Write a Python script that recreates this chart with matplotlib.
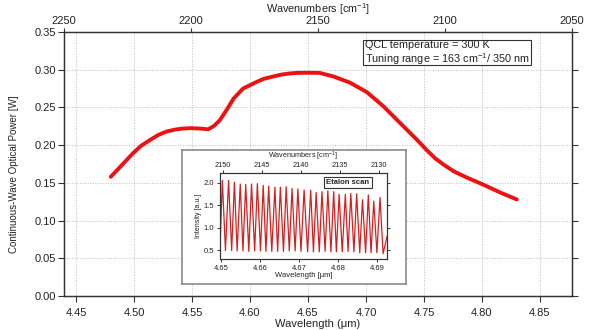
import matplotlib
matplotlib.use("Agg")
import matplotlib.pyplot as plt
from matplotlib.patches import Rectangle

plt.rcParams['font.family'] = ['Liberation Sans', 'DejaVu Sans']
plt.rcParams['mathtext.fontset'] = 'custom'
plt.rcParams['mathtext.rm'] = 'Liberation Sans'
plt.rcParams['mathtext.it'] = 'Liberation Sans:italic'

# main curve: CW optical power vs wavelength
wavelength = [4.480, 4.488, 4.499, 4.506, 4.514, 4.521, 4.528, 4.535, 4.542,
              4.549, 4.557, 4.564, 4.569, 4.574, 4.580, 4.586, 4.594, 4.606,
              4.612, 4.620, 4.627, 4.634, 4.641, 4.649, 4.660, 4.672, 4.686,
              4.701, 4.715, 4.729, 4.744, 4.752, 4.760, 4.768, 4.776, 4.787,
              4.801, 4.816, 4.830]
power = [0.158, 0.171, 0.189, 0.199, 0.207, 0.2135, 0.218, 0.2205, 0.222,
         0.2225, 0.222, 0.221, 0.2255, 0.233, 0.247, 0.262, 0.275, 0.284,
         0.288, 0.291, 0.2935, 0.295, 0.2958, 0.296, 0.2958, 0.291, 0.283,
         0.270, 0.2515, 0.230, 0.207, 0.194, 0.182, 0.173, 0.165, 0.157,
         0.1477, 0.137, 0.128]

# inset: etalon fringes, peak and valley positions/heights
peak_wl = [4.6503, 4.6519, 4.6534, 4.6549, 4.6563, 4.6578, 4.6593, 4.6608,
           4.6622, 4.6638, 4.6652, 4.6667, 4.6682, 4.6697, 4.6713, 4.6730,
           4.6744, 4.6759, 4.6774, 4.6789, 4.6803, 4.6819, 4.6833, 4.6848,
           4.6863, 4.6878, 4.6892, 4.6908]
peak_int = [2.05, 2.05, 2.01, 1.97, 1.96, 1.97, 1.98, 1.94, 1.92, 1.90,
            1.90, 1.91, 1.87, 1.86, 1.84, 1.83, 1.78, 1.80, 1.82, 1.80,
            1.74, 1.74, 1.76, 1.75, 1.62, 1.73, 1.59, 1.67]
valley_wl = [4.6511, 4.6527, 4.6541, 4.6556, 4.6571, 4.6586, 4.6601, 4.6615,
             4.6630, 4.6645, 4.6660, 4.6675, 4.6690, 4.6705, 4.6722, 4.6737,
             4.6752, 4.6767, 4.6782, 4.6796, 4.6811, 4.6826, 4.6841, 4.6856,
             4.6871, 4.6885, 4.6900, 4.6916]
valley_int = [0.49, 0.49, 0.48, 0.48, 0.47, 0.48, 0.48, 0.47, 0.47, 0.47,
              0.47, 0.48, 0.48, 0.47, 0.46, 0.46, 0.46, 0.47, 0.46, 0.46,
              0.46, 0.47, 0.46, 0.44, 0.44, 0.44, 0.44, 0.42]
fringe_start = (4.6497, 0.55)
fringe_end = (4.6926, 0.80)

main_xticks = [4.45, 4.50, 4.55, 4.60, 4.65, 4.70, 4.75, 4.80, 4.85]
main_yticks = [0.00, 0.05, 0.10, 0.15, 0.20, 0.25, 0.30, 0.35]
top_ticks = [2250, 2200, 2150, 2100, 2050]
inset_xticks = [4.65, 4.66, 4.67, 4.68, 4.69]
inset_yticks = [0.5, 1.0, 1.5, 2.0]
inset_top_ticks = [2150, 2145, 2140, 2135, 2130]

W, H = 600, 330
fig = plt.figure(figsize=(6, 3.3), dpi=100)

def box(l, t, r, b):
    return [l / W, (H - b) / H, (r - l) / W, (b - t) / H]

spine_col = '#333333'
txt_col = '#222222'

ax = fig.add_axes(box(64, 32, 572, 296))
ax.plot(wavelength, power, color='#ee1111', lw=2.8, solid_capstyle='round')
ax.set_xlim(4.4397, 4.8776)
ax.set_ylim(0, 0.35)
ax.set_xticks(main_xticks)
ax.set_yticks(main_yticks)
ax.set_xticklabels([f"{v:.2f}" for v in main_xticks])
ax.set_yticklabels([f"{v:.2f}" for v in main_yticks])
ax.grid(True, ls=':', color='#bdbdbd', lw=0.7)
ax.tick_params(direction='out', length=4.5, width=0.8, labelsize=8,
               colors=spine_col, labelcolor=txt_col, right=True, pad=2)
ax.tick_params(axis='y', pad=1.5)
ax.tick_params(axis='x', pad=4)
ax.set_xlabel("Wavelength (\u03bcm)", fontsize=8, color=txt_col, labelpad=1)
ax.set_ylabel("Continuous-Wave Optical Power [W]", fontsize=7, color=txt_col)
ax.yaxis.set_label_coords(-0.088, 0.46)
for s in ax.spines.values():
    s.set_color(spine_col)
    s.set_linewidth(0.9)

# annotation box, top right
ax.add_patch(Rectangle((0.5886, 0.875), 0.3307, 0.0947, transform=ax.transAxes,
                       fc='white', ec=spine_col, lw=0.8, zorder=5))
ax.text(0.5925, 0.951, "QCL temperature = 300 K", transform=ax.transAxes,
        fontsize=7.8, color=txt_col, ha='left', va='center', zorder=6)
ax.text(0.5925, 0.897, "Tuning range = 163 cm$^{-1}$/ 350 nm", transform=ax.transAxes,
        fontsize=7.8, color=txt_col, ha='left', va='center', zorder=6)

top = ax.twiny()
top.set_xlim(2250, 2050)
top.set_xticks(top_ticks)
top.tick_params(direction='out', length=3, width=0.8, labelsize=8,
                colors=spine_col, labelcolor=txt_col, pad=1.5)
top.set_xlabel("Wavenumbers [cm$^{-1}$]", fontsize=7.8, color=txt_col, labelpad=2)
for s in top.spines.values():
    s.set_color(spine_col)
    s.set_linewidth(0.9)

# inset frame
frame = fig.add_axes(box(182, 150, 406, 284))
frame.set_xticks([])
frame.set_yticks([])
frame.set_facecolor('white')
for s in frame.spines.values():
    s.set_color('#8a8a8a')
    s.set_linewidth(1.2)

fx = [fringe_start[0]]
fy = [fringe_start[1]]
for pw, pi, vw, vi in zip(peak_wl, peak_int, valley_wl, valley_int):
    fx += [pw, vw]
    fy += [pi, vi]
fx.append(fringe_end[0])
fy.append(fringe_end[1])

ins = fig.add_axes(box(220, 173, 387, 259))
ins.plot(fx, fy, color='#d42020', lw=0.9)
ins.set_xlim(4.6497, 4.6926)
ins.set_ylim(0.30, 2.216)
ins.set_xticks(inset_xticks)
ins.set_yticks(inset_yticks)
ins.set_xticklabels([f"{v:.2f}" for v in inset_xticks])
ins.set_yticklabels([f"{v:.1f}" for v in inset_yticks])
ins.tick_params(direction='out', length=2.5, width=0.7, labelsize=5.5,
                colors=spine_col, labelcolor=txt_col, right=True, pad=1.5)
ins.set_xlabel("Wavelength [\u03bcm]", fontsize=5.5, color=txt_col, labelpad=0)
ins.set_ylabel("Intensity [a.u.]", fontsize=5, color=txt_col, labelpad=1.5)
ins.text(0.766, 0.89, "Etalon scan", transform=ins.transAxes, fontsize=5.5,
         fontweight='bold', color=txt_col, ha='center', va='center', zorder=6,
         bbox=dict(boxstyle='square,pad=0.3', fc='white', ec=spine_col, lw=0.8))
for s in ins.spines.values():
    s.set_color(spine_col)
    s.set_linewidth(0.8)

ins_top = ins.twiny()
ins_top.set_xlim(2150.4, 2129.0)
ins_top.set_xticks(inset_top_ticks)
ins_top.tick_params(direction='out', length=2.5, width=0.7, labelsize=5.3,
                    colors=spine_col, labelcolor=txt_col, pad=0.5)
ins_top.set_xlabel("Wavenumbers [cm$^{-1}$]", fontsize=5.2, color=txt_col,
                   labelpad=2.6)
for s in ins_top.spines.values():
    s.set_color(spine_col)
    s.set_linewidth(0.8)

fig.savefig("out.png", dpi=100)
